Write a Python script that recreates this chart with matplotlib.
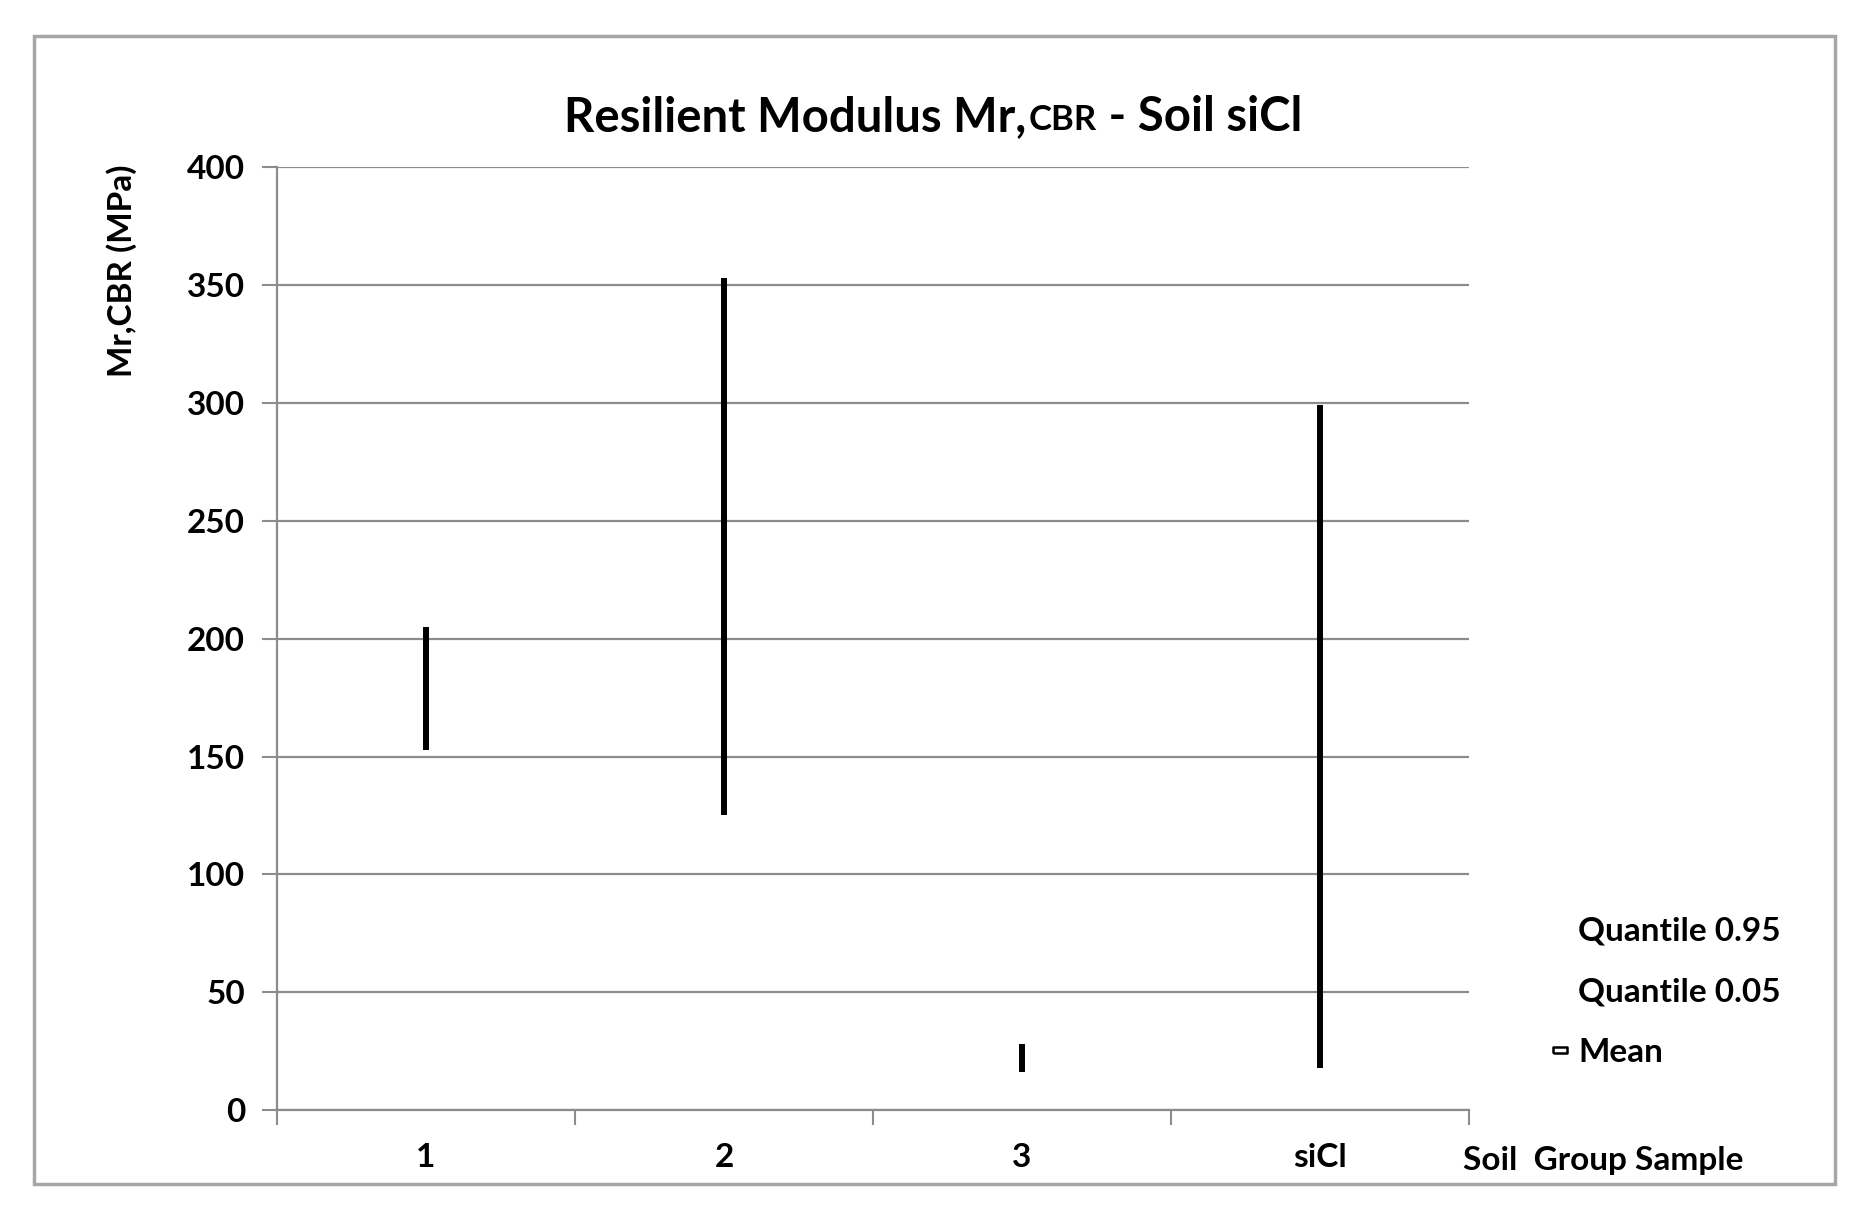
import matplotlib
matplotlib.use('Agg')
import matplotlib.pyplot as plt
from matplotlib.lines import Line2D
from matplotlib.patches import Rectangle

plt.rcParams['font.family'] = ['Lato', 'DejaVu Sans']
plt.rcParams['font.weight'] = 'bold'

GROUPS = ['1', '2', '3', 'siCl']
Q95 = [205, 353, 28, 299]
Q05 = [153, 125, 16, 18]
YTICKS = [0, 50, 100, 150, 200, 250, 300, 350, 400]
YLABEL = 'Mr,CBR (MPa)'
XLABEL = 'Soil  Group Sample'
LEGEND_LABELS = ['Quantile 0.95', 'Quantile 0.05', 'Mean']
GRID_COLOR = '#8c8c8c'

fig = plt.figure(figsize=(18.62, 12.1), dpi=100)
ax = fig.add_axes([0.1488, 0.0826, 0.640, 0.779])

# high-low lines between the two quantiles
centers = [i + 0.5 for i in range(len(GROUPS))]
ax.vlines(centers, Q05, Q95, color='black', linewidth=4.3, zorder=3)

ax.set_xlim(0, len(GROUPS))
ax.set_ylim(0, 400)
ax.set_yticks(YTICKS)
ax.set_yticklabels([str(v) for v in YTICKS], fontsize=24, fontweight='bold')
ax.set_xticks(range(len(GROUPS) + 1))
ax.set_xticklabels([])
ax.set_xticks(centers, minor=True)
ax.set_xticklabels(GROUPS, minor=True, fontsize=24, fontweight='bold')
ax.tick_params(axis='x', which='minor', length=0, pad=24)
ax.tick_params(axis='x', which='major', length=11, width=1.5, color=GRID_COLOR, direction='out')
ax.tick_params(axis='y', length=11, width=1.5, color=GRID_COLOR, direction='out', pad=12)

ax.grid(axis='y', color=GRID_COLOR, linewidth=1.6)
ax.set_axisbelow(True)
for side in ['top', 'right']:
    ax.spines[side].set_visible(False)
for side in ['left', 'bottom']:
    ax.spines[side].set_color(GRID_COLOR)
    ax.spines[side].set_linewidth(1.6)

# title in three pieces so "CBR" sits smaller on the baseline
t1 = fig.text(0.3029, 0.8917, 'Resilient Modulus Mr,', ha='left', va='baseline',
              fontsize=34, fontweight='bold')
t2 = ax.annotate('CBR', xy=(1, 0), xycoords=t1, xytext=(2, 2), textcoords='offset points',
                 ha='left', va='bottom', fontsize=25, fontweight='bold')
ax.annotate(' - Soil siCl', xy=(1, 0), xycoords=t2, xytext=(0, -2), textcoords='offset points',
            ha='left', va='bottom', fontsize=34, fontweight='bold')

fig.text(0.0655, 0.776, YLABEL, rotation=90, ha='center', va='center', fontsize=24, fontweight='bold')
fig.text(0.7857, 0.0413, XLABEL, ha='left', va='center', fontsize=24, fontweight='bold')

mean_marker = [(-1, -0.5), (1, -0.5), (1, 0.5), (-1, 0.5), (-1, -0.5)]
handles = [
    Line2D([], [], linestyle='none', marker=None),
    Line2D([], [], linestyle='none', marker=None),
    Line2D([], [], linestyle='none', marker=mean_marker, markersize=10,
           markerfacecolor='white', markeredgecolor='black', markeredgewidth=1.8),
]
fig.legend(handles, LEGEND_LABELS,
           loc='upper left', bbox_to_anchor=(0.817, 0.267), frameon=False,
           prop={'size': 24, 'weight': 'bold'}, handlelength=0.5, handletextpad=0.3,
           labelspacing=0.94)

fig.add_artist(Rectangle((0.0183, 0.0215), 0.967, 0.9488, transform=fig.transFigure,
                         fill=False, edgecolor='#a6a6a6', linewidth=2.5))

fig.savefig('out.png', dpi=100)
